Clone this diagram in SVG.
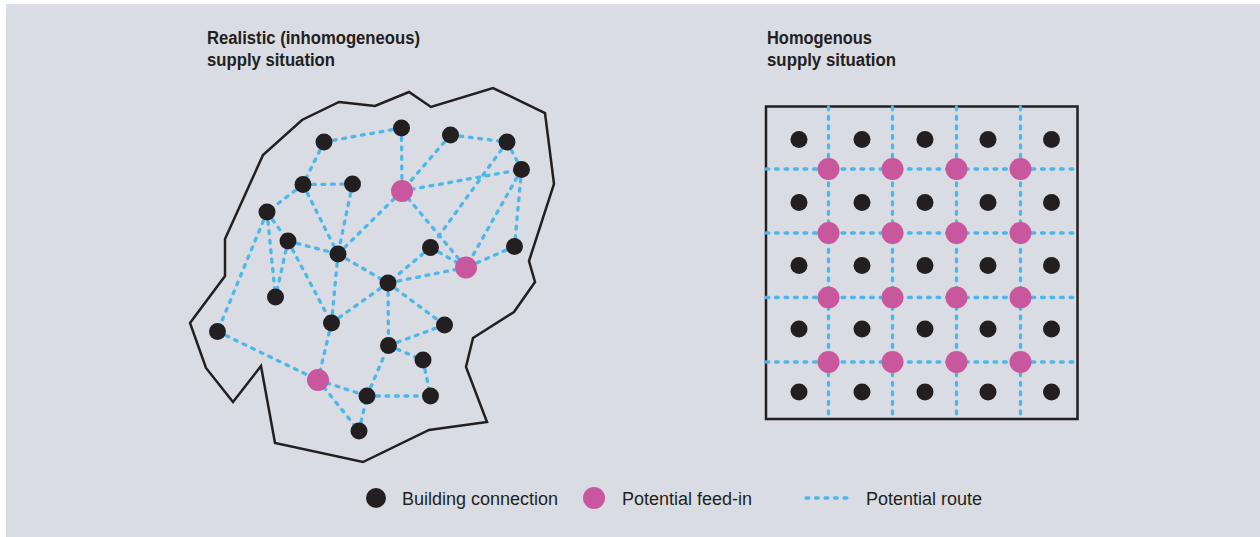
<svg xmlns="http://www.w3.org/2000/svg" width="1260" height="537" viewBox="0 0 1260 537">
<style>
.bg{fill:#d9dce2}
.b{fill:#231f20}
.p{fill:#c9579e}
.r{stroke:#4cb7e8;stroke-width:3.3;stroke-linecap:round;stroke-dasharray:2.8 6.7;fill:none}
.outline{fill:none;stroke:#231f20;stroke-width:2.5;stroke-linejoin:miter}
.t{font-family:"Liberation Sans",Arial,sans-serif;fill:#231f20}
.h{font-size:18px;font-weight:bold}
.l{font-size:18px}
</style>
<rect x="0" y="0" width="1260" height="537" fill="#ffffff"/>
<rect class="bg" x="6" y="4" width="1254" height="533"/>

<text class="t h" x="207" y="44" textLength="213" lengthAdjust="spacingAndGlyphs">Realistic (inhomogeneous)</text>
<text class="t h" x="207" y="66" textLength="128" lengthAdjust="spacingAndGlyphs">supply situation</text>
<text class="t h" x="767" y="44" textLength="105" lengthAdjust="spacingAndGlyphs">Homogenous</text>
<text class="t h" x="767" y="66" textLength="129" lengthAdjust="spacingAndGlyphs">supply situation</text>

<polygon id="area-realistic" class="outline" points="339,102 375,106 409,92 431,107 493,88 545,113 554,184 529,261 535,282 514,312 473,338 466,367 487,422 429,430 363,462 275,443 261,366 233,402 206,368 190,323 225,276 225,239 263,155 302,120"/>
<rect id="area-homogenous" class="outline" x="766" y="106.5" width="311.5" height="312.5"/>

<g id="connectors">
<path class="r" d="M324,142L401.5,128 M324,142L303,184.5 M303,184.5L352.5,184 M303,184.5L267,212 M303,184.5L338,254 M352.5,184L338,254 M267,212L288,241 M267,212L275.5,297 M267,212L217.5,331.5 M288,241L275.5,297 M288,241L338,254 M288,241L331.5,323 M338,254L331.5,323 M338,254L388,283 M338,254L402,191 M401.5,128L402,191 M450.5,135L402,191 M450.5,135L507,142 M507,142L521.5,169.5 M507,142L430.5,247.5 M402,191L521.5,169.5 M521.5,169.5L466,267.5 M521.5,169.5L514.5,246.5 M402,191L466,267.5 M430.5,247.5L466,267.5 M430.5,247.5L388,283 M514.5,246.5L466,267.5 M466,267.5L388,283 M217.5,331.5L318,380 M331.5,323L318,380 M331.5,323L388,283 M318,380L367,396 M318,380L359,431 M359,431L367,396 M367,396L388.5,345.5 M388,283L388.5,345.5 M388,283L444.5,325 M388.5,345.5L444.5,325 M388.5,345.5L423,360 M423,360L430.5,396 M367,396L430.5,396"/>
<path class="r" d="M828.5,107V419 M892.5,107V419 M956.5,107V419 M1020.5,107V419 M766,169H1077 M766,233H1077 M766,297.5H1077 M766,362H1077"/>
</g>

<g id="n-a"><circle class="b" cx="324" cy="142" r="8.5"/></g>
<g id="n-b"><circle class="b" cx="401.5" cy="128" r="8.5"/></g>
<g id="n-c"><circle class="b" cx="450.5" cy="135" r="8.5"/></g>
<g id="n-d"><circle class="b" cx="507" cy="142" r="8.5"/></g>
<g id="n-e"><circle class="b" cx="521.5" cy="169.5" r="8.5"/></g>
<g id="n-f"><circle class="b" cx="303" cy="184.5" r="8.5"/></g>
<g id="n-g"><circle class="b" cx="352.5" cy="184" r="8.5"/></g>
<g id="n-p1"><circle class="p" cx="402" cy="191" r="11"/></g>
<g id="n-h"><circle class="b" cx="267" cy="212" r="8.5"/></g>
<g id="n-i"><circle class="b" cx="288" cy="241" r="8.5"/></g>
<g id="n-j"><circle class="b" cx="338" cy="254" r="8.5"/></g>
<g id="n-k"><circle class="b" cx="430.5" cy="247.5" r="8.5"/></g>
<g id="n-l"><circle class="b" cx="514.5" cy="246.5" r="8.5"/></g>
<g id="n-p2"><circle class="p" cx="466" cy="267.5" r="11"/></g>
<g id="n-m"><circle class="b" cx="388" cy="283" r="8.5"/></g>
<g id="n-n"><circle class="b" cx="275.5" cy="297" r="8.5"/></g>
<g id="n-o"><circle class="b" cx="331.5" cy="323" r="8.5"/></g>
<g id="n-q"><circle class="b" cx="217.5" cy="331.5" r="8.5"/></g>
<g id="n-r"><circle class="b" cx="444.5" cy="325" r="8.5"/></g>
<g id="n-s"><circle class="b" cx="388.5" cy="345.5" r="8.5"/></g>
<g id="n-t"><circle class="b" cx="423" cy="360" r="8.5"/></g>
<g id="n-p3"><circle class="p" cx="318" cy="380" r="11"/></g>
<g id="n-u"><circle class="b" cx="367" cy="396" r="8.5"/></g>
<g id="n-v"><circle class="b" cx="430.5" cy="396" r="8.5"/></g>
<g id="n-w"><circle class="b" cx="359" cy="431" r="8.5"/></g>

<g id="g-b11"><circle class="b" cx="799" cy="139.5" r="8.5"/></g>
<g id="g-b12"><circle class="b" cx="862" cy="139.5" r="8.5"/></g>
<g id="g-b13"><circle class="b" cx="925" cy="139.5" r="8.5"/></g>
<g id="g-b14"><circle class="b" cx="988" cy="139.5" r="8.5"/></g>
<g id="g-b15"><circle class="b" cx="1051.5" cy="139.5" r="8.5"/></g>
<g id="g-b21"><circle class="b" cx="799" cy="202.5" r="8.5"/></g>
<g id="g-b22"><circle class="b" cx="862" cy="202.5" r="8.5"/></g>
<g id="g-b23"><circle class="b" cx="925" cy="202.5" r="8.5"/></g>
<g id="g-b24"><circle class="b" cx="988" cy="202.5" r="8.5"/></g>
<g id="g-b25"><circle class="b" cx="1051.5" cy="202.5" r="8.5"/></g>
<g id="g-b31"><circle class="b" cx="799" cy="265.5" r="8.5"/></g>
<g id="g-b32"><circle class="b" cx="862" cy="265.5" r="8.5"/></g>
<g id="g-b33"><circle class="b" cx="925" cy="265.5" r="8.5"/></g>
<g id="g-b34"><circle class="b" cx="988" cy="265.5" r="8.5"/></g>
<g id="g-b35"><circle class="b" cx="1051.5" cy="265.5" r="8.5"/></g>
<g id="g-b41"><circle class="b" cx="799" cy="329" r="8.5"/></g>
<g id="g-b42"><circle class="b" cx="862" cy="329" r="8.5"/></g>
<g id="g-b43"><circle class="b" cx="925" cy="329" r="8.5"/></g>
<g id="g-b44"><circle class="b" cx="988" cy="329" r="8.5"/></g>
<g id="g-b45"><circle class="b" cx="1051.5" cy="329" r="8.5"/></g>
<g id="g-b51"><circle class="b" cx="799" cy="392" r="8.5"/></g>
<g id="g-b52"><circle class="b" cx="862" cy="392" r="8.5"/></g>
<g id="g-b53"><circle class="b" cx="925" cy="392" r="8.5"/></g>
<g id="g-b54"><circle class="b" cx="988" cy="392" r="8.5"/></g>
<g id="g-b55"><circle class="b" cx="1051.5" cy="392" r="8.5"/></g>

<g id="g-p11"><circle class="p" cx="828.5" cy="169" r="11"/></g>
<g id="g-p12"><circle class="p" cx="892.5" cy="169" r="11"/></g>
<g id="g-p13"><circle class="p" cx="956.5" cy="169" r="11"/></g>
<g id="g-p14"><circle class="p" cx="1020.5" cy="169" r="11"/></g>
<g id="g-p21"><circle class="p" cx="828.5" cy="233" r="11"/></g>
<g id="g-p22"><circle class="p" cx="892.5" cy="233" r="11"/></g>
<g id="g-p23"><circle class="p" cx="956.5" cy="233" r="11"/></g>
<g id="g-p24"><circle class="p" cx="1020.5" cy="233" r="11"/></g>
<g id="g-p31"><circle class="p" cx="828.5" cy="297.5" r="11"/></g>
<g id="g-p32"><circle class="p" cx="892.5" cy="297.5" r="11"/></g>
<g id="g-p33"><circle class="p" cx="956.5" cy="297.5" r="11"/></g>
<g id="g-p34"><circle class="p" cx="1020.5" cy="297.5" r="11"/></g>
<g id="g-p41"><circle class="p" cx="828.5" cy="362" r="11"/></g>
<g id="g-p42"><circle class="p" cx="892.5" cy="362" r="11"/></g>
<g id="g-p43"><circle class="p" cx="956.5" cy="362" r="11"/></g>
<g id="g-p44"><circle class="p" cx="1020.5" cy="362" r="11"/></g>

<g id="legend">
<circle class="b" cx="376" cy="498" r="10"/>
<text class="t l" x="402" y="505">Building connection</text>
<circle class="p" cx="594" cy="498" r="11"/>
<text class="t l" x="622" y="505">Potential feed-in</text>
<path class="r" d="M806,498H850"/>
<text class="t l" x="866" y="505">Potential route</text>
</g>
</svg>
